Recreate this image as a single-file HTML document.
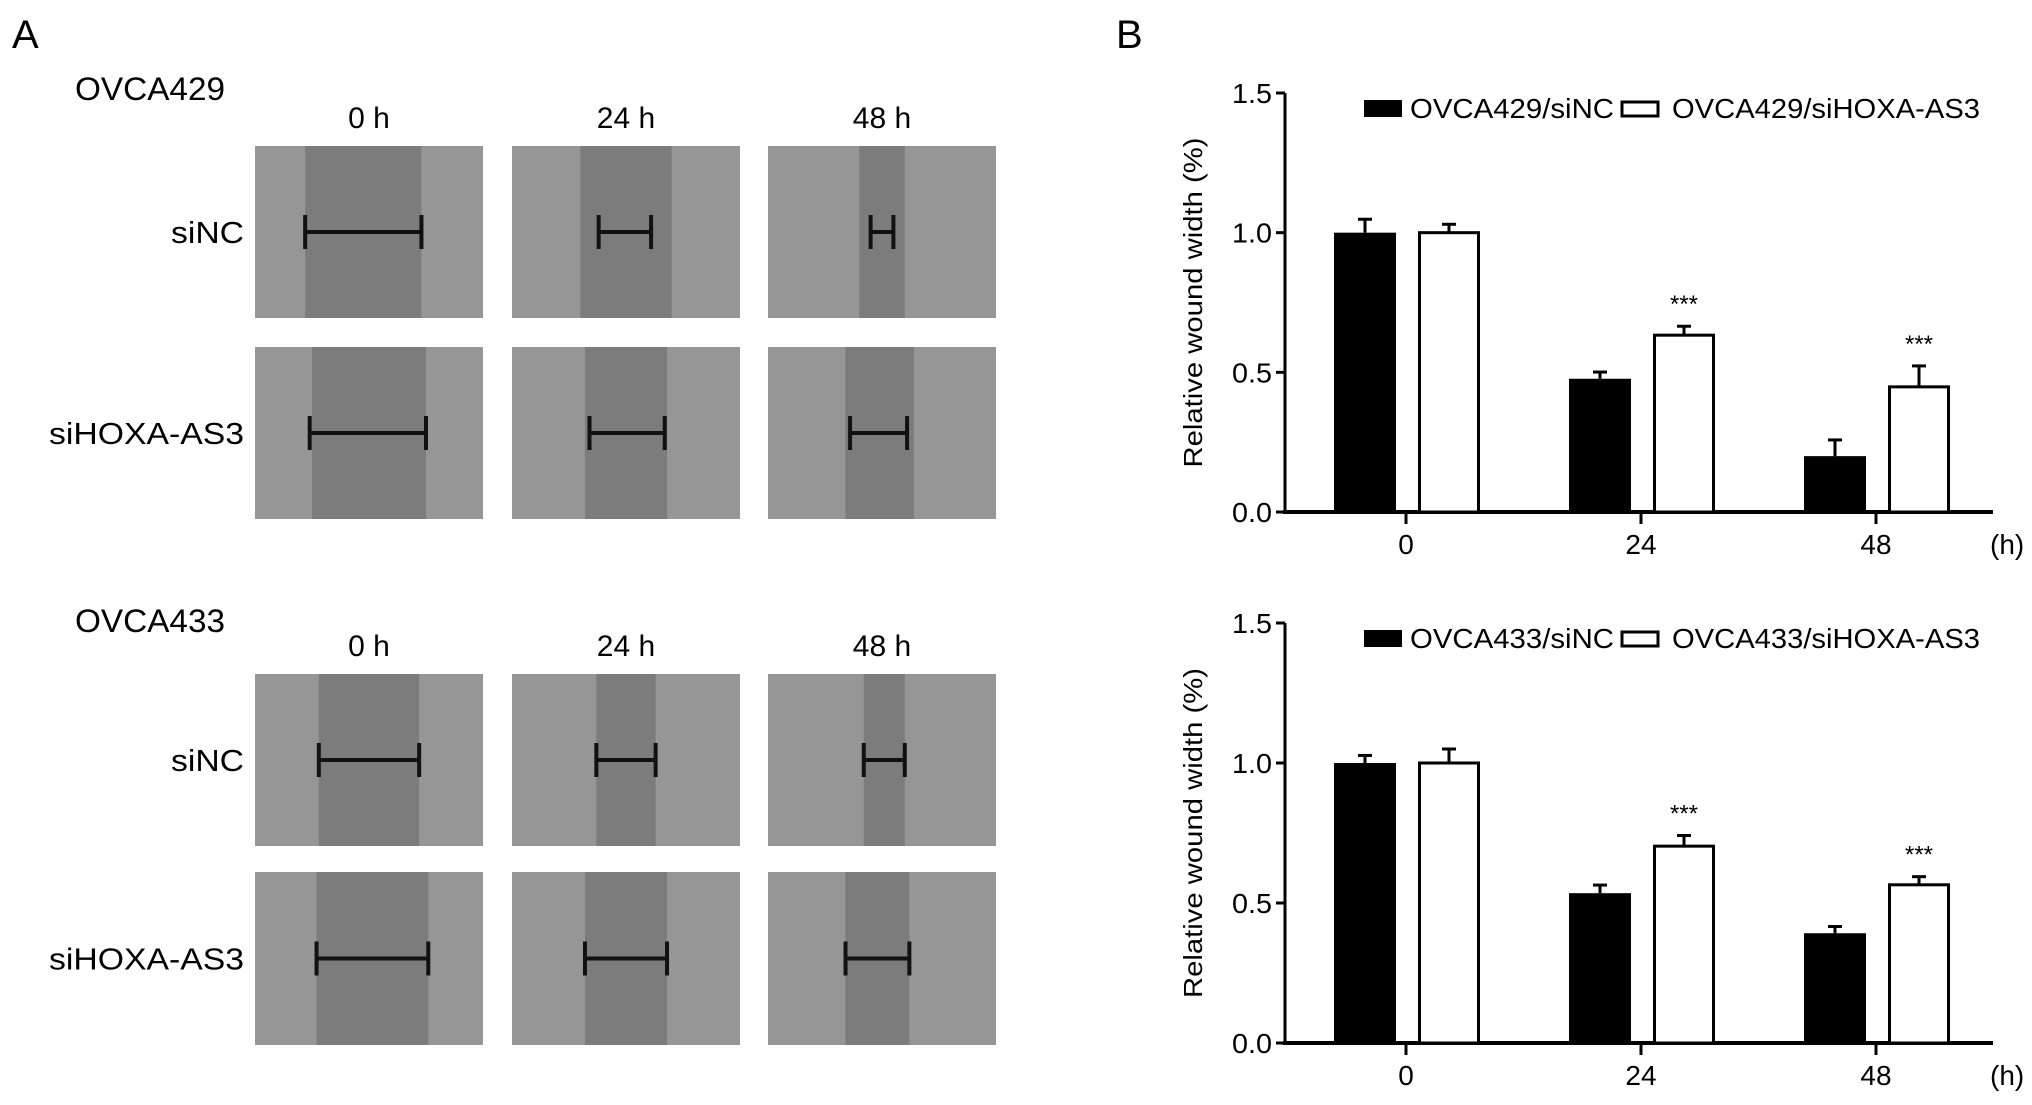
<!DOCTYPE html>
<html><head><meta charset="utf-8"><style>
html,body{margin:0;padding:0;background:#fff;overflow:hidden}
svg{display:block;font-family:"Liberation Sans",sans-serif}
</style></head><body>
<svg id="fig" width="2032" height="1105" viewBox="0 0 2032 1105" xmlns="http://www.w3.org/2000/svg">
<text x="12" y="48" font-size="40">A</text>
<text x="1116" y="48" font-size="40">B</text>
<g id="panelA"></g>
<g id="chart1"></g>
<g id="chart2"></g>
</svg>
<script>
const NS="http://www.w3.org/2000/svg";
const categories=["0","24","48"];
const c1Black=[1.0,0.477,0.20];
const c1BlackErr=[0.048,0.024,0.058];
const c1White=[1.0,0.633,0.448];
const c1WhiteErr=[0.03,0.032,0.075];
const c2Black=[1.0,0.535,0.392];
const c2BlackErr=[0.027,0.029,0.024];
const c2White=[1.0,0.703,0.565];
const c2WhiteErr=[0.05,0.038,0.029];
const yTicks=["0.0","0.5","1.0","1.5"];
const sig1=["","***","***"];
const sig2=["","***","***"];

function el(tag,attrs,parent,text){const e=document.createElementNS(NS,tag);for(const k in attrs)e.setAttribute(k,attrs[k]);if(text!==undefined)e.textContent=text;parent.appendChild(e);return e;}

function drawChart(g,yTop,yZero,black,blackErr,white,whiteErr,sig,leg1,leg2){
  const axX=1285, unit=(yZero-yTop)/1.5;
  const yS=v=>yZero-v*unit;
  const xS=i=>1406+235*i;
  let e=el('line',{x1:axX,y1:yS(1.5),x2:axX,y2:yZero,stroke:'#000','stroke-width':3},g);
  
  e=el('line',{x1:axX-2,y1:yZero,x2:1993,y2:yZero,stroke:'#000','stroke-width':4},g);
  
  yTicks.forEach(t=>{const v=parseFloat(t);
    el('line',{x1:axX-9,y1:yS(v),x2:axX,y2:yS(v),stroke:'#000','stroke-width':3},g);
    e=el('text',{x:axX-13,y:yS(v)+10,'font-size':28,'text-anchor':'end',textLength:40,lengthAdjust:'spacingAndGlyphs'},g,t);
    });
  e=el('text',{x:0,y:0,'font-size':26,'text-anchor':'middle',transform:`translate(1202,${(yTop+yZero)/2+0}) rotate(-90)`,textLength:330,lengthAdjust:'spacingAndGlyphs'},g,'Relative wound width (%)');
  
  categories.forEach((c,i)=>{const cx=xS(i);
    el('line',{x1:cx,y1:yZero,x2:cx,y2:yZero+12,stroke:'#000','stroke-width':3},g);
    e=el('text',{x:cx,y:yZero+42,'font-size':28,'text-anchor':'middle'},g,c);
    
    const bw=62;
    let bx=cx-72;
    el('line',{x1:bx+bw/2,y1:yS(black[i]),x2:bx+bw/2,y2:yS(black[i]+blackErr[i]),stroke:'#000','stroke-width':3},g);
    el('line',{x1:bx+bw/2-7,y1:yS(black[i]+blackErr[i]),x2:bx+bw/2+7,y2:yS(black[i]+blackErr[i]),stroke:'#000','stroke-width':3},g);
    e=el('rect',{x:bx,y:yS(black[i]),width:bw,height:yZero-yS(black[i]),fill:'#000'},g);
    
    let wx=cx+12;
    el('line',{x1:wx+bw/2,y1:yS(white[i]),x2:wx+bw/2,y2:yS(white[i]+whiteErr[i]),stroke:'#000','stroke-width':3},g);
    el('line',{x1:wx+bw/2-7,y1:yS(white[i]+whiteErr[i]),x2:wx+bw/2+7,y2:yS(white[i]+whiteErr[i]),stroke:'#000','stroke-width':3},g);
    e=el('rect',{x:wx+1.5,y:yS(white[i]),width:bw-3,height:yZero-yS(white[i]),fill:'#fff',stroke:'#000','stroke-width':3},g);
    
    if(sig[i]){e=el('text',{x:wx+bw/2,y:yS(white[i]+whiteErr[i])-14,'font-size':24,'text-anchor':'middle'},g,sig[i]);
      }
  });
  e=el('text',{x:1990,y:yZero+42,'font-size':28},g,'(h)');
  
  const ly=yTop+15;
  e=el('rect',{x:1364,y:ly-8,width:38,height:17,fill:'#000'},g);
  
  e=el('text',{x:1410,y:ly+10,'font-size':28,textLength:204,lengthAdjust:'spacingAndGlyphs'},g,leg1);
  
  e=el('rect',{x:1622,y:ly-6,width:36,height:14,fill:'#fff',stroke:'#000','stroke-width':3},g);
  
  e=el('text',{x:1672,y:ly+10,'font-size':28,textLength:308,lengthAdjust:'spacingAndGlyphs'},g,leg2);
  
}
drawChart(document.getElementById('chart1'),93,512,c1Black,c1BlackErr,c1White,c1WhiteErr,sig1,'OVCA429/siNC','OVCA429/siHOXA-AS3');
drawChart(document.getElementById('chart2'),623,1043,c2Black,c2BlackErr,c2White,c2WhiteErr,sig2,'OVCA433/siNC','OVCA433/siHOXA-AS3');

const pa=document.getElementById('panelA');
const cols=[[255,228],[512,228],[768,228]];
const blocks=[
 {name:'OVCA429',ty:100,hy:128,rows:[[146,172,'siNC',[[0.22,0.73,0.22,0.73],[0.30,0.70,0.38,0.61],[0.40,0.60,0.45,0.55]]],[347,172,'siHOXA-AS3',[[0.25,0.75,0.24,0.75],[0.32,0.68,0.34,0.67],[0.34,0.64,0.36,0.61]]]]},
 {name:'OVCA433',ty:632,hy:656,rows:[[674,172,'siNC',[[0.28,0.72,0.28,0.72],[0.37,0.63,0.37,0.63],[0.42,0.60,0.42,0.60]]],[872,173,'siHOXA-AS3',[[0.27,0.76,0.27,0.76],[0.32,0.68,0.32,0.68],[0.34,0.62,0.34,0.62]]]]}
];
const times=['0 h','24 h','48 h'];
let e;
e=el('defs',{},pa);
el('filter',{id:'grain'},e).innerHTML='<feTurbulence type="fractalNoise" baseFrequency="0.9" numOctaves="2" seed="3"/><feColorMatrix type="matrix" values="0 0 0 0 0.5  0 0 0 0 0.5  0 0 0 0 0.5  0 0 0 0.35 0"/><feComposite in2="SourceGraphic" operator="in"/>';
blocks.forEach(b=>{
  e=el('text',{x:75,y:b.ty,'font-size':32,textLength:150,lengthAdjust:'spacingAndGlyphs'},pa,b.name);
  
  cols.forEach((c,j)=>{e=el('text',{x:c[0]+c[1]/2,y:b.hy,'font-size':30,'text-anchor':'middle'},pa,times[j]);
    });
  b.rows.forEach(r=>{
    const [ry,rh,lab,info]=r;
    e=el('text',{x:244,y:ry+rh/2+11,'font-size':31,'text-anchor':'end',textLength:lab.length>5?195:73,lengthAdjust:'spacingAndGlyphs'},pa,lab);
    
    cols.forEach((c,j)=>{
      const [x,w]=c,[b0,b1,s0,s1]=info[j];
      const g=el('g',{},pa);
      
      el('rect',{x:x,y:ry,width:w,height:rh,fill:'#969696'},g);
      el('rect',{x:x+w*b0,y:ry,width:w*(b1-b0),height:rh,fill:'#7c7c7c'},g);
      const cy=ry+rh/2, xa=x+w*s0, xb=x+w*s1;
      const sb=el('g',{stroke:'#111','stroke-width':4},g);
      
      el('line',{x1:xa,y1:cy,x2:xb,y2:cy},sb);
      el('line',{x1:xa,y1:cy-17,x2:xa,y2:cy+17},sb);
      el('line',{x1:xb,y1:cy-17,x2:xb,y2:cy+17},sb);
    });
  });
});
</script>
</body></html>
